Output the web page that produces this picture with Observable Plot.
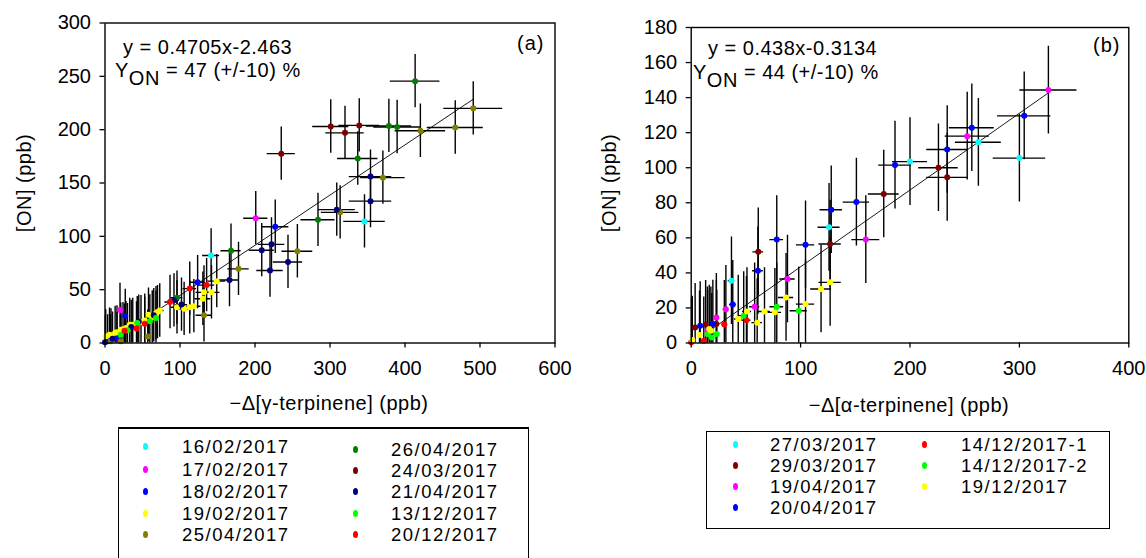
<!DOCTYPE html>
<html><head><meta charset="utf-8">
<script src="https://cdn.jsdelivr.net/npm/d3@7"></script>
<script src="https://cdn.jsdelivr.net/npm/@observablehq/plot@0.6"></script>
<style>
html,body{margin:0;padding:0;background:#fff;}
body{width:1146px;height:558px;overflow:hidden;position:relative;font-family:"Liberation Sans",Arial,sans-serif;color:#000;}
.abs{position:absolute;white-space:nowrap;}
.t20{font-size:20px;line-height:20px;letter-spacing:0.5px;}
.sub{position:relative;top:8px;}
.box{position:absolute;border:1px solid #000;background:#fff;}
.lgtext{position:absolute;font-size:18.5px;line-height:17px;letter-spacing:1.5px;white-space:nowrap;}
.mk{position:absolute;width:5px;height:7px;border-radius:50%;}
</style></head>
<body>
<div id="pa" class="abs" style="left:0;top:0"></div>
<div id="pb" class="abs" style="left:580px;top:0"></div>
<div id="overlay"></div>
<script>
// ---------- Panel (a): gamma-terpinene ----------
const seriesA = ["16/02/2017","17/02/2017","18/02/2017","19/02/2017","25/04/2017",
                 "26/04/2017","24/03/2017","21/04/2017","13/12/2017","20/12/2017"];
const colorsA = ["#00ffff","#ff00ff","#0000ff","#ffff00","#808000",
                 "#008000","#800000","#000080","#00ff00","#ff0000"];
const a_1602 = [[346,114],[141.5,82]];
const a_1702 = [[201,117],[20,31]];
const a_1802 = [[227,109],[123.5,57],[27,25.5],[3.5,1.6],[16,3.7]];
const a_1902 = [[149,58],[142,47.5],[132,47.5],[130.5,41.5],[96,33.5],[105.5,32],[113,33.5],[118.5,34.5],
                [73,30.5],[68,28],[58,26.5],[48,19.5],[33,17],[28,14],[21,12.5],[13.5,9.5],[6,7.8],[1,6.2],
                [8,7],[16,10],[24,13],[37,17],[53,21],[63,24],[70,29]];
const a_2504 = [[491,220],[467,202],[420.5,199],[370.5,155],[313.5,122.5],[256.5,86],[178,69.5],[132,26],
                [57,6],[7.5,1.6],[21,1.6]];
const a_2604 = [[413.5,245.5],[389.5,202.5],[378.5,203.5],[337,173],[284,115.5],[168,86.5],[96,42.5]];
const a_2403 = [[235,177.5],[339,204],[320,197],[301,203]];
const a_2104 = [[354,156],[354,133],[309,125],[0,0.6],[222,92.5],[220,68],[244,76],[209,87],[166,59],
                [10,4],[35,15],[45,20],[65,26],[92,40],[102,36]];
const a_1312 = [[68,23.5],[59.8,20.3],[43,18.7],[21,7.8],[30,12]];
const a_2012 = [[135.5,54.3],[113,51],[86.7,38.4],[53,18],[42,13.7],[26,11.5]];
const pointsA = [a_1602,a_1702,a_1802,a_1902,a_2504,a_2604,a_2403,a_2104,a_1312,a_2012];
const slopeA = 0.4705, interceptA = -2.463, fitRangeA = [10, 491];
const yErrA = 25, xErrFracA = 0.08;
const xTicksA = [0,100,200,300,400,500,600];
const yTicksA = [0,50,100,150,200,250,300];

// ---------- Panel (b): alpha-terpinene ----------
const seriesB = ["27/03/2017","29/03/2017","19/04/2017","20/04/2017",
                 "14/12/2017-1","14/12/2017-2","19/12/2017"];
const colorsB = ["#00ffff","#800000","#ff00ff","#0000ff","#ff0000","#00ff00","#ffff00"];
const b_2703 = [[300,105.5],[262.5,114.5],[200,103.5],[126,66],[36.8,35.5]];
const b_2903 = [[226,100],[234,94.5],[176,85],[127,56.5],[61.3,52],[23,10.8],[13.2,10.6],[3.6,8.9]];
const b_1904 = [[326.5,144.3],[252.3,118],[159.6,59],[88,36.5],[58,20.7],[31.7,19.2],[23,14.6],[14.8,7]];
const b_2004 = [[304.4,129.6],[256.5,122.8],[234,110.4],[186.3,101.5],[151,80.4],[128,76],[104.5,56],
                [78.2,59],[61,41.2],[38,22],[19.8,10.8],[8.2,9.9]];
const b_1412a = [[50.5,13],[30.3,10.6],[11.5,1.3],[0,0.4]];
const b_1412b = [[98.3,18.4],[78.2,20.7],[48,15.6],[23.4,5.1],[18.8,3.2],[15,5]];
const b_1912 = [[127,34.6],[118.7,30.8],[104.5,22.2],[86.7,26],[76.5,17.5],[67,18],[60.3,11.6],[51,18],
                [43,13.7],[18,7],[16.5,8],[7.6,4.6],[1,1.7]];
const pointsB = [b_2703,b_2903,b_1904,b_2004,b_1412a,b_1412b,b_1912];
const slopeB = 0.438, interceptB = -0.3134, fitRangeB = [20, 327];
const yErrB = 25, xErrFracB = 0.08;
const xTicksB = [0,100,200,300,400];
const yTicksB = [0,20,40,60,80,100,120,140,160,180];

function panel(cfg) {
  const rows = [];
  cfg.series.forEach((name, i) => cfg.points[i].forEach(([x, y]) => rows.push({x, y, s: name})));
  const fit = cfg.fitRange.map(x => ({x, y: cfg.slope * x + cfg.intercept}));
  return Plot.plot({
    width: cfg.width, height: 420,
    marginLeft: cfg.ml, marginRight: cfg.mr, marginTop: cfg.mt, marginBottom: 420 - 342.5,
    x: {domain: cfg.xDomain},
    y: {domain: cfg.yDomain},
    color: {domain: cfg.series, range: cfg.colors},
    style: {fontFamily: "'Liberation Sans', Arial, sans-serif", fontSize: "20px", color: "#000", background: "transparent", overflow: "visible"},
    marks: [
      Plot.ruleX(rows, {x: "x", y1: d => d.y - cfg.yErr, y2: d => d.y + cfg.yErr, stroke: "#000", strokeWidth: 1.4, clip: true}),
      Plot.ruleY(rows, {y: "y", x1: d => d.x * (1 - cfg.xf), x2: d => d.x * (1 + cfg.xf), stroke: "#000", strokeWidth: 1.4, clip: true}),
      Plot.line(fit, {x: "x", y: "y", stroke: "#000", strokeWidth: 0.9, clip: true}),
      Plot.dot(rows, {x: "x", y: "y", fill: "s", r: 3, stroke: null}),
      Plot.frame({stroke: "#000", strokeWidth: 1.4}),
      Plot.axisX({ticks: cfg.xTicks, tickSize: 5, tickPadding: 13, label: null, fontSize: 20, strokeWidth: 1.3}),
      Plot.axisY({ticks: cfg.yTicks, tickSize: 5, tickPadding: 9, label: null, fontSize: 20, strokeWidth: 1.3})
    ]
  });
}

document.getElementById("pa").append(panel({
  width: 580, ml: 104.5, mr: 580 - 554.5, mt: 22.5,
  xDomain: [0, 600], yDomain: [0, 300], xTicks: xTicksA, yTicks: yTicksA,
  series: seriesA, colors: colorsA, points: pointsA,
  slope: slopeA, intercept: interceptA, fitRange: fitRangeA, yErr: yErrA, xf: xErrFracA
}));
document.getElementById("pb").append(panel({
  width: 566, ml: 110.7, mr: 566 - 548.3, mt: 27,
  xDomain: [0, 400], yDomain: [0, 180], xTicks: xTicksB, yTicks: yTicksB,
  series: seriesB, colors: colorsB, points: pointsB,
  slope: slopeB, intercept: interceptB, fitRange: fitRangeB, yErr: yErrB, xf: xErrFracB
}));

// ---------- text overlays ----------
const ov = document.getElementById("overlay");
function addDiv(html, style, cls) {
  const d = document.createElement("div");
  d.className = cls || "abs t20";
  d.style.cssText = style;
  d.innerHTML = html;
  ov.append(d);
  return d;
}
addDiv("y = " + slopeA + "x" + interceptA, "left:123px;top:37px;");
addDiv("Y<span class='sub'>ON</span> = 47 (+/-10) %", "left:115px;top:60px;");
addDiv("(a)", "left:517px;top:33px;letter-spacing:1px;");
addDiv("y = " + slopeB + "x" + interceptB, "left:708px;top:38px;");
addDiv("Y<span class='sub'>ON</span> = 44 (+/-10) %", "left:693px;top:62px;");
addDiv("(b)", "left:1093px;top:35px;letter-spacing:1px;");
// axis titles
addDiv("\u2212\u0394[\u03b3-terpinene] (ppb)", "left:329px;top:393px;transform:translateX(-50%);");
addDiv("\u2212\u0394[\u03b1-terpinene] (ppb)", "left:909px;top:395px;transform:translateX(-50%);");
addDiv("[ON] (ppb)", "left:24px;top:183px;transform:translate(-50%,-50%) rotate(-90deg);");
addDiv("[ON] (ppb)", "left:609px;top:183px;transform:translate(-50%,-50%) rotate(-90deg);");

// ---------- legends ----------
addDiv("", "left:118px;top:427px;width:409px;height:140px;border-top-width:2px;", "box");
addDiv("", "left:706px;top:431px;width:402px;height:96px;", "box");
function legendEntry(name, color, mx, tx, cy) {
  addDiv("", `left:${mx - 2.5}px;top:${cy - 3.5}px;background:${color};`, "mk");
  addDiv(name, `left:${tx}px;top:${cy - 8.5}px;`, "lgtext");
}
const rowsA1 = [446, 469, 491, 513, 534], rowsA2 = [449, 470, 491, 513, 534];
seriesA.forEach((name, i) => {
  if (i < 5) legendEntry(name, colorsA[i], 145, 182, rowsA1[i]);
  else legendEntry(name, colorsA[i], 355, 391, rowsA2[i - 5]);
});
const rowsB = [444, 465, 486, 507];
seriesB.forEach((name, i) => {
  if (i < 4) legendEntry(name, colorsB[i], 735, 770, rowsB[i]);
  else legendEntry(name, colorsB[i], 924, 961, rowsB[i - 4]);
});
</script>
</body></html>
